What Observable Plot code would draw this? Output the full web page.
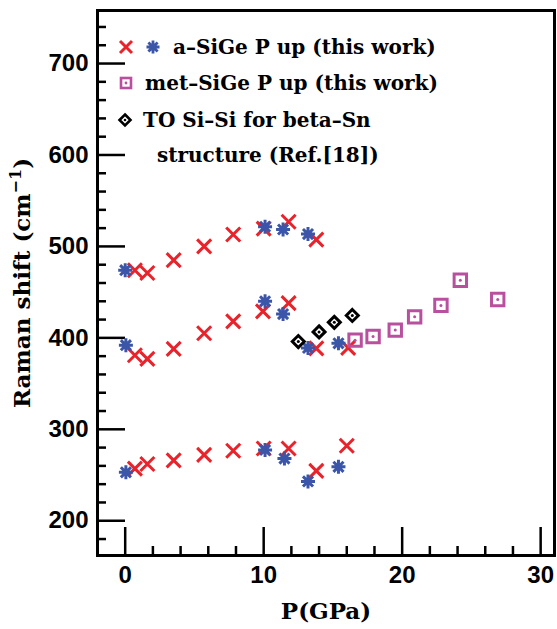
<!DOCTYPE html>
<html><head><meta charset="utf-8">
<script src="https://cdn.jsdelivr.net/npm/d3@7"></script>
<script src="https://cdn.jsdelivr.net/npm/@observablehq/plot@0.6"></script>
<style>
body{margin:0;background:#fff}
#wrap{position:relative;width:557px;height:629px}
g[aria-label="x-axis label"] text, g[aria-label="y-axis label"] text{font-family:"DejaVu Serif",serif;font-weight:bold;font-size:23px;fill:#000}
#legend{position:absolute;left:0;top:0;width:557px;height:200px;font-family:"DejaVu Serif",serif;font-weight:bold;font-size:20px;color:#000;pointer-events:none}
#legend .t{position:absolute;white-space:pre;transform:translateY(-50%);line-height:1}
#legend svg{position:absolute;overflow:visible}
</style>
</head><body>
<div id="wrap"></div>
<script>
// ---- data ----
const aSiGe1P = [0.7,1.6,3.5,5.7,7.8,10.0,11.8,13.8, 0.7,1.6,3.5,5.7,7.8,9.95,11.8,13.8,16.1, 0.7,1.6,3.5,5.7,7.8,10.0,11.8,13.8,16.0];
const aSiGe1V = [474,471,485,500,513,519.5,527,507.5, 381,377,388,405,418,429,438,388.5,389, 257,262,266,272,276.5,279,279,254.5,282];
const aSiGe2P = [0.0,10.1,11.4,13.2, 0.05,10.1,11.4,13.2,15.4, 0.05,10.1,11.5,13.2,15.4];
const aSiGe2V = [474,521.5,518.5,513.5, 392,440,426,389,394, 253,277.5,268,243,259];
const metP = [16.6,17.9,19.5,20.9,22.8,24.2,26.9];
const metV = [397.5,401.5,408.5,423,435.5,463,442];
const betaSnP = [12.5,14.0,15.1,16.4];
const betaSnV = [396,406.5,417,424.5];
const xTicks = [0,10,20,30];
const xMinor = [2,4,6,8,12,14,16,18,22,24,26,28];
const yTicks = [200,300,400,500,600,700];
const yMinor = [180,220,240,260,280,320,340,360,380,420,440,460,480,520,540,560,580,620,640,660,680,720,740];
const legendLabels = ["a\u2013SiGe P up (this work)","met\u2013SiGe P up (this work)","TO Si\u2013Si for beta\u2013Sn","structure (Ref.[18])"];
const colors = {red:"#e8232b", blue:"#3b55a8", pink:"#b9509f", black:"#000"};

const zip = (P,V) => P.map((p,i)=>({p, v:V[i]}));
const red = zip(aSiGe1P,aSiGe1V), blue = zip(aSiGe2P,aSiGe2V), pink = zip(metP,metV), black = zip(betaSnP,betaSnV);

// ---- custom symbols ----
const R = s => Math.sqrt(s/Math.PI);
const symX = {draw(c,s){const r=R(s);c.moveTo(-r,-r);c.lineTo(r,r);c.moveTo(-r,r);c.lineTo(r,-r);}};
const symStar = {draw(c,s){const r=R(s),d=r*0.72;c.moveTo(0,-r);c.lineTo(0,r);c.moveTo(-r,0);c.lineTo(r,0);c.moveTo(-d,-d);c.lineTo(d,d);c.moveTo(-d,d);c.lineTo(d,-d);}};
const symSq = {draw(c,s){const r=R(s);c.moveTo(-r,-r);c.lineTo(r,-r);c.lineTo(r,r);c.lineTo(-r,r);c.closePath();}};
const symDia = {draw(c,s){const r=R(s);c.moveTo(0,-r);c.lineTo(r,0);c.lineTo(0,r);c.lineTo(-r,0);c.closePath();}};

const W=557,H=629,mL=97,mR=3,mT=10,mB=74;
const fw=W-mL-mR, fh=H-mT-mB;
const tickFont = {fontSize:24, fontWeight:"bold", fontFamily:"'Liberation Sans', Arial, sans-serif"};

const chart = Plot.plot({
  width:W, height:H, marginLeft:mL, marginRight:mR, marginTop:mT, marginBottom:mB,
  x:{domain:[-2,31]},
  y:{domain:[162,758]},
  style:{background:"#fff", color:"#000"},
  marks:[
    Plot.tickX(xMinor,{x:d=>d, insetTop:fh-9, stroke:"#000", strokeWidth:2.5}),
    Plot.tickX(xTicks,{x:d=>d, insetTop:fh-28, stroke:"#000", strokeWidth:2.5}),
    Plot.tickY(yMinor,{y:d=>d, insetRight:fw-9, stroke:"#000", strokeWidth:2.5}),
    Plot.tickY(yTicks,{y:d=>d, insetRight:fw-28, stroke:"#000", strokeWidth:2.5}),
    Plot.axisX({ticks:xTicks, tickSize:0, tickPadding:10, ...tickFont, label:"P(GPa)", labelAnchor:"center", labelOffset:63, labelArrow:"none"}),
    Plot.axisY({ticks:yTicks, tickSize:0, tickPadding:9, ...tickFont, label:"Raman shift (cm-1)", labelAnchor:"center", labelOffset:84, labelArrow:"none"}),
    Plot.dot(red,{x:"p", y:"v", symbol:symX, r:7, fill:"none", stroke:colors.red, strokeWidth:3}),
    Plot.dot(blue,{x:"p", y:"v", symbol:symStar, r:7, fill:"none", stroke:colors.blue, strokeWidth:3}),
    Plot.dot(black,{x:"p", y:"v", symbol:symDia, r:6, fill:"none", stroke:colors.black, strokeWidth:3}),
    Plot.dot(black,{x:"p", y:"v", r:1.5, fill:colors.black, stroke:"none"}),
    Plot.dot(pink,{x:"p", y:"v", symbol:symSq, r:6.2, fill:"none", stroke:colors.pink, strokeWidth:3}),
    Plot.dot(pink,{x:"p", y:"v", r:1.5, fill:colors.pink, stroke:"none"}),
    Plot.frame({stroke:"#000", strokeWidth:3})
  ]
});
const wrap = document.getElementById("wrap");
wrap.appendChild(chart);

// superscript in y label
const yl = chart.querySelector('g[aria-label="y-axis label"] text');
if (yl) {
  yl.textContent = "";
  const ns = "http://www.w3.org/2000/svg";
  const a = document.createElementNS(ns,"tspan"); a.textContent = "Raman shift (cm";
  const b = document.createElementNS(ns,"tspan"); b.textContent = "\u2212" + "1"; b.setAttribute("dy","-9"); b.setAttribute("font-size","16");
  b.style.fontSize = "16px";
  const c = document.createElementNS(ns,"tspan"); c.textContent = ")"; c.setAttribute("dy","9");
  yl.append(a,b,c);
}

// ---- legend overlay ----
const lg = document.createElement("div"); lg.id="legend"; wrap.appendChild(lg);
function sym(cx, cy, kind){
  const s = 16, h = s/2;
  let inner = "";
  if(kind==="x") inner = `<path d="M-6,-6L6,6M-6,6L6,-6" stroke="${colors.red}" stroke-width="3" fill="none"/>`;
  if(kind==="star") inner = `<path d="M0,-6.5V6.5M-6.5,0H6.5M-4.6,-4.6L4.6,4.6M-4.6,4.6L4.6,-4.6" stroke="${colors.blue}" stroke-width="2.8" fill="none"/>`;
  if(kind==="sq") inner = `<rect x="-5" y="-5" width="10" height="10" stroke="${colors.pink}" stroke-width="2.6" fill="none"/><circle r="1.4" fill="${colors.pink}"/>`;
  if(kind==="dia") inner = `<path d="M0,-5.5L5.5,0L0,5.5L-5.5,0Z" stroke="#000" stroke-width="2.6" fill="none"/><circle r="1.3" fill="#000"/>`;
  const el = document.createElementNS("http://www.w3.org/2000/svg","svg");
  el.setAttribute("width",s); el.setAttribute("height",s);
  el.style.left=(cx-h)+"px"; el.style.top=(cy-h)+"px";
  el.innerHTML = `<g transform="translate(${h},${h})">${inner}</g>`;
  lg.appendChild(el);
}
function txt(x,y,s){const d=document.createElement("div");d.className="t";d.style.left=x+"px";d.style.top=y+"px";d.textContent=s;lg.appendChild(d);}
const rowsY=[47,83,120,155];
sym(126,rowsY[0],"x"); sym(153,rowsY[0],"star"); txt(173,rowsY[0],legendLabels[0]);
sym(126,rowsY[1],"sq"); txt(145,rowsY[1],legendLabels[1]);
sym(125,rowsY[2],"dia"); txt(143,rowsY[2],legendLabels[2]);
txt(157,rowsY[3],legendLabels[3]);
</script>
</body></html>
